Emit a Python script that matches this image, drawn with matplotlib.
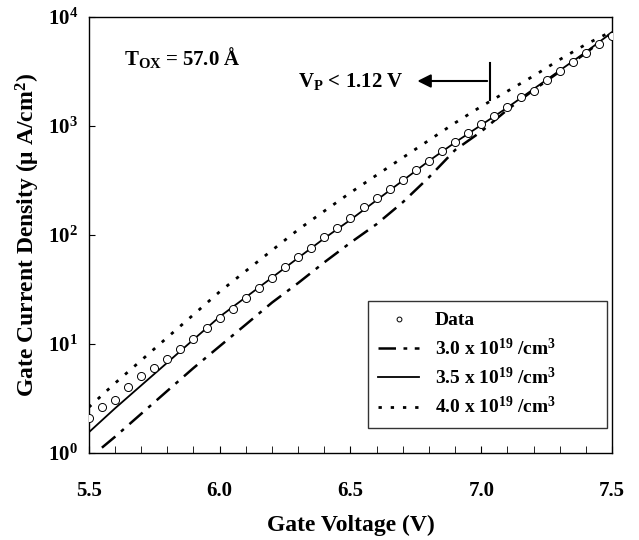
import numpy as np
import matplotlib
matplotlib.use("Agg")
import matplotlib.pyplot as plt
from matplotlib.ticker import LogLocator, MultipleLocator, NullLocator, FormatStrFormatter

plt.rcParams["font.family"] = ["Liberation Serif", "DejaVu Serif"]
plt.rcParams["font.weight"] = "bold"
plt.rcParams["mathtext.fontset"] = "custom"
plt.rcParams["mathtext.rm"] = "Liberation Serif:bold"
plt.rcParams["mathtext.bf"] = "Liberation Serif:bold"
plt.rcParams["mathtext.it"] = "Liberation Serif:bold:italic"

# ── Data (gate current density, uA/cm^2) ─────────────────────────────────────
v_data = np.round(np.arange(5.5, 7.5001, 0.05), 2)
j_data = [2.1, 2.65, 3.05, 4.0, 5.1, 6.0, 7.3, 9.0, 11.1, 13.9,
          17.4, 20.8, 26.4, 32.4, 40.0, 50.6, 62.4, 76.5, 95, 117,
          144, 182, 220, 264, 320, 395, 481, 590, 718, 868,
          1043, 1243, 1503, 1833, 2094, 2642, 3198, 3840, 4650, 5620, 6700]

v_sim = np.round(np.arange(5.5, 7.5001, 0.1), 1)
j_30 = [np.nan, 1.41, 2.29, 3.72, 6.03, 9.55, 15.1, 24.0, 36.3, 56.2,
        85.1, 126, 200, 339, 603, 891, 1413, 2138, 3162, 4677, 7244]
j_35 = [1.55, 2.57, 4.17, 6.76, 11.0, 17.8, 26.9, 40.7, 61.7, 93.3,
        138, 209, 316, 479, 708, 1023, 1479, 2188, 3236, 4786, 7244]
j_40 = [2.63, 4.37, 7.08, 11.5, 18.6, 30.2, 46.8, 72.4, 112, 166,
        245, 355, 513, 741, 1070, 1514, 2089, 2884, 4074, 5623, 7413]
# start of the 3.0e19 curve, just above 10^0
v_30_start, j_30_start = 5.55, 1.12

v30 = np.concatenate([[v_30_start], v_sim[1:]])
j30 = np.concatenate([[j_30_start], j_30[1:]])

fig = plt.figure(figsize=(6.39, 5.40), dpi=100)
ax = fig.add_axes([0.139, 0.161, 0.819, 0.8075])

ax.plot(v30, j30, color="black", lw=1.8, dashes=(7, 3, 1.5, 3), label=r"3.0 x 10$^{19}$ /cm$^3$")
ax.plot(v_sim, j_35, color="black", lw=1.3, label=r"3.5 x 10$^{19}$ /cm$^3$")
ax.plot(v_sim, j_40, color="black", lw=2.0, dashes=(1.2, 3.2), label=r"4.0 x 10$^{19}$ /cm$^3$")
ax.plot(v_data, j_data, "o", ms=5.8, mfc="white", mec="black", mew=0.7, label="Data", zorder=5)

ax.set_yscale("log")
ax.set_xlim(5.5, 7.5)
ax.set_ylim(1, 1e4)

ax.xaxis.set_major_locator(MultipleLocator(0.5))
ax.xaxis.set_minor_locator(MultipleLocator(0.1))
ax.xaxis.set_major_formatter(FormatStrFormatter("%.1f"))
ax.yaxis.set_major_locator(LogLocator(base=10, numticks=10))
ax.yaxis.set_minor_locator(NullLocator())
ax.tick_params(axis="both", which="both", direction="in", top=False, right=False)
ax.tick_params(axis="x", which="major", length=5, labelsize=15, pad=20)
ax.tick_params(axis="x", which="minor", length=5)
ax.tick_params(axis="y", which="major", length=4, labelsize=15, pad=8)
for s in ax.spines.values():
    s.set_linewidth(1.0)

ax.set_xlabel("Gate Voltage (V)", fontsize=17, fontweight="bold", labelpad=10)
ax.set_ylabel("Gate Current Density (\u03bc A/cm$^2$)", fontsize=17, fontweight="bold", labelpad=4)

ax.text(5.635, 10 ** 3.63, "T$_{\\rm OX}$ = 57.0 Å", fontsize=15, fontweight="bold", va="center")
ax.text(6.30, 10 ** 3.41, "V$_{\\rm P}$ < 1.12 V", fontsize=15, fontweight="bold", va="center")
ax.annotate("", xy=(6.745, 10 ** 3.413), xytext=(7.033, 10 ** 3.413),
            arrowprops=dict(arrowstyle="-|>", color="black", lw=1.5, mutation_scale=20))
ax.plot([7.033, 7.033], [10 ** 3.24, 10 ** 3.58], color="black", lw=1.5)

handles, labels = ax.get_legend_handles_labels()
order = [3, 0, 1, 2]
leg = ax.legend([handles[i] for i in order], [labels[i] for i in order],
                loc="lower left", bbox_to_anchor=(0.533, 0.057, 0.457, 0.296), mode="expand",
                fontsize=14, frameon=True, fancybox=False, edgecolor="black",
                handlelength=2.1, markerscale=0.6, borderpad=0.55, labelspacing=0.42,
                handletextpad=0.8, borderaxespad=0.0)
leg.get_frame().set_linewidth(1.0)
for t in leg.get_texts():
    t.set_fontweight("bold")

fig.savefig("out.png", dpi=100)
